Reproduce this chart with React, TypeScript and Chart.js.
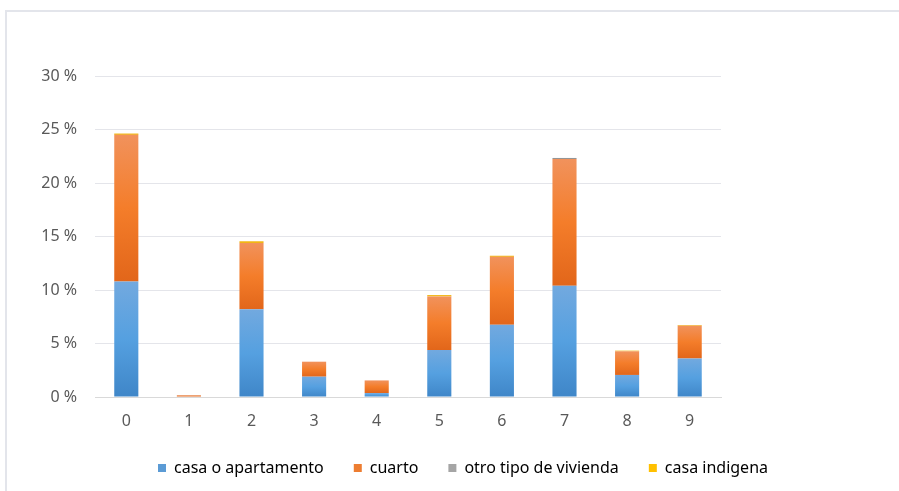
import React, { useEffect, useRef } from "react";
import { Chart, registerables } from "chart.js";

Chart.register(...registerables);

const categories = ["0", "1", "2", "3", "4", "5", "6", "7", "8", "9"];
const casaApartamento = [10.8, 0, 8.2, 1.9, 0.37, 4.4, 6.76, 10.4, 2.06, 3.6];
const cuarto = [13.7, 0.15, 6.2, 1.4, 1.18, 5.0, 6.34, 11.84, 2.21, 3.06];
const otroTipo = [0, 0, 0, 0, 0, 0, 0, 0.1, 0, 0];
const casaIndigena = [0.12, 0, 0.15, 0, 0, 0.12, 0.1, 0, 0.06, 0.06];
const yTicks = [0, 5, 10, 15, 20, 25, 30];

const seriesNames = ["casa o apartamento", "cuarto", "otro tipo de vivienda", "casa indigena"];
const seriesValues = [casaApartamento, cuarto, otroTipo, casaIndigena];
const seriesStops = [
  ["#72a9df", "#55a0e0", "#3f86c8"],
  ["#f1925c", "#f47d2a", "#e2661a"],
  ["#b5b5b5", "#a5a5a5", "#959595"],
  ["#ffcf40", "#ffc000", "#f0b000"],
];
const legendColors = ["#5b9bd5", "#ed7d31", "#a5a5a5", "#ffc000"];

export default function App() {
  const ref = useRef<HTMLCanvasElement | null>(null);
  useEffect(() => {
    document.body.style.margin = "0";
    const canvas = ref.current!;
    const makeBg = (di: number) => (ctx: any) => {
      const chart = ctx.chart;
      const y = chart.scales?.y;
      if (!y || ctx.type !== "data") return legendColors[di];
      const i = ctx.dataIndex;
      let base = 0;
      for (let k = 0; k < di; k++) base += seriesValues[k][i];
      const top = base + seriesValues[di][i];
      const y0 = y.getPixelForValue(top);
      const y1 = y.getPixelForValue(base);
      if (!isFinite(y0) || !isFinite(y1) || Math.abs(y1 - y0) < 3) return seriesStops[di][2];
      const g = chart.ctx.createLinearGradient(0, y0, 0, y1);
      const s = seriesStops[di];
      g.addColorStop(0, s[0]);
      g.addColorStop(0.5, s[1]);
      g.addColorStop(1, s[2]);
      return g;
    };
    const chart = new Chart(canvas, {
      type: "bar",
      data: {
        labels: categories,
        datasets: seriesNames.map((name, di) => ({
          label: name,
          data: seriesValues[di],
          backgroundColor: makeBg(di),
          borderWidth: 0,
          categoryPercentage: 1,
          barPercentage: 0.385,
          yAxisID: "y",
        })),
      },
      options: {
        animation: false,
        responsive: false,
        layout: { padding: { left: 27, right: 0, top: 76, bottom: 5 } },
        scales: {
          x: {
            stacked: true,
            grid: { display: false, drawTicks: false },
            border: { display: true, color: "#d9d9d9", width: 1 },
            afterFit: (s: any) => {
              s.height = 33;
            },
            ticks: {
              color: "#595959",
              font: { family: "Noto Sans", size: 16 },
              padding: 15,
            },
          },
          y: {
            stacked: true,
            min: 0,
            max: 30,
            afterFit: (s: any) => {
              s.width = 68;
            },
            afterBuildTicks: (s: any) => {
              s.ticks = yTicks.map((v) => ({ value: v }));
            },
            grid: { color: "#e4e5ea", drawTicks: false },
            border: { display: false },
            ticks: {
              color: "#595959",
              font: { family: "Noto Sans", size: 16 },
              padding: 18,
              callback: (v: any) => v + " %",
            },
          },
          yr: {
            position: "right",
            display: true,
            min: 0,
            max: 30,
            afterFit: (s: any) => {
              s.width = 178;
            },
            grid: { display: false, drawTicks: false },
            border: { display: false },
            ticks: { display: false },
          },
        },
        plugins: {
          legend: {
            position: "bottom",
            labels: {
              boxWidth: 8,
              boxHeight: 8,
              padding: 30,
              color: "#595959",
              font: { family: "Noto Sans", size: 16 },
              generateLabels: () =>
                seriesNames.map((n, i) => ({
                  text: n,
                  fillStyle: legendColors[i],
                  strokeStyle: legendColors[i],
                  lineWidth: 0,
                  datasetIndex: i,
                  hidden: false,
                })),
            },
          },
          tooltip: { enabled: false },
        },
      },
    });
    return () => chart.destroy();
  }, []);
  return (
    <div style={{ position: "relative", width: 899, height: 491, overflow: "hidden", background: "#fff" }}>
      <div
        style={{
          position: "absolute",
          left: 5,
          top: 10,
          width: 1000,
          height: 1000,
          borderTop: "2px solid #e3e5eb",
          borderLeft: "2px solid #e3e5eb",
        }}
      />
      <canvas ref={ref} width={899} height={491} style={{ position: "absolute", left: 0, top: 0 }} />
    </div>
  );
}
